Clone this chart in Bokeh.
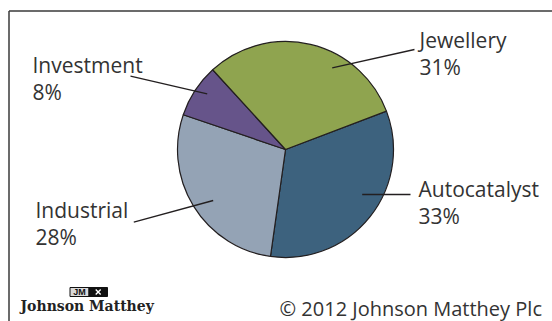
import math
from bokeh.plotting import figure
from bokeh.models import Range1d
from bokeh.core.properties import value
from bokeh.embed import file_html
from bokeh.resources import INLINE

W, H = 552, 321

# ---- data ----
categories = ["Autocatalyst", "Industrial", "Investment", "Jewellery"]
shares = [33, 28, 8, 31]
pct_labels = ["33%", "28%", "8%", "31%"]
colors = ["#3d627e", "#94a3b5", "#66548a", "#8fa44f"]

# ---- layout (screen pixels, y downward) ----
cx, cy, R = 285, 149, 108
start_deg = 20.8
label_x = [418, 35, 32, 419]
label_base = [196.7, 218.3, 73.3, 48.3]
line_gap = 27
leader_in = [(361.7, 194), (212.7, 200), (206.7, 93.3), (331.7, 67.3)]
leader_out = [(410, 194), (133.3, 221.7), (130, 75.7), (414, 49)]
TXT_SHIFT = 8.5  # compensation for svg baseline placement


def fy(y):
    return H - y


def ty(y, shift=TXT_SHIFT):
    return H - (y - shift)


p = figure(width=W, height=H, output_backend="svg", toolbar_location=None,
           x_range=Range1d(0, W), y_range=Range1d(0, H),
           min_border=0, background_fill_color="white",
           border_fill_color="white")
p.axis.visible = False
p.grid.visible = False
p.outline_line_color = None

# frame lines
p.line([8.5, W], [fy(10.5), fy(10.5)], line_color="#3a3a3a", line_width=1.5)
p.line([8.5, 8.5], [fy(10.5), 0], line_color="#3a3a3a", line_width=1.5)

# pie
total = float(sum(shares))
cum = 0.0
starts, ends = [], []
for s in shares:
    a_end = math.radians(start_deg - cum / total * 360.0)
    cum += s
    a_start = math.radians(start_deg - cum / total * 360.0)
    starts.append(a_start)
    ends.append(a_end)

p.wedge(x=[cx] * len(shares), y=[fy(cy)] * len(shares), radius=R,
        start_angle=starts, end_angle=ends, fill_color=colors,
        line_color="#231f20", line_width=1.2)

# leader lines
for (x0, y0), (x1, y1) in zip(leader_in, leader_out):
    p.line([x0, x1], [fy(y0), fy(y1)], line_color="#231f20", line_width=1.3)

txt_col = "#333333"
p.text(x=label_x, y=[ty(b) for b in label_base], text=categories,
       text_font=value("Open Sans"), text_font_size="21px",
       text_color=txt_col, text_baseline="alphabetic", text_align="left")
p.text(x=label_x, y=[ty(b + line_gap) for b in label_base], text=pct_labels,
       text_font=value("Open Sans"), text_font_size="21px",
       text_color=txt_col, text_baseline="alphabetic", text_align="left")

# footer
p.text(x=[279], y=[ty(316)], text=["© 2012 Johnson Matthey Plc"],
       text_font=value("Open Sans"), text_font_size="20px",
       text_color=txt_col, text_baseline="alphabetic", text_align="left")

# logo
p.quad(left=[69.5], right=[88.5], top=[fy(287)], bottom=[fy(296)],
       fill_color="#d9d9d9", line_color="#111111", line_width=1)
p.quad(left=[88.5], right=[107], top=[fy(287)], bottom=[fy(296)],
       fill_color="#111111", line_color="#111111", line_width=1)
p.text(x=[79], y=[fy(291.7)], text=["JM"], text_font=value("Liberation Sans"),
       text_font_size="9px", text_font_style="bold", text_color="#111111",
       text_baseline="middle", text_align="center")
p.scatter(x=[97.7], y=[fy(291.5)], size=7, marker="x", line_color="white",
          line_width=1.4)
p.text(x=[20], y=[ty(309, 4.0)], text=["Johnson Matthey"],
       text_font=value("DejaVu Serif"), text_font_size="14px",
       text_font_style="bold", text_color="#222222",
       text_baseline="alphabetic", text_align="left")

open("out.html", "w").write(file_html(p, INLINE))
